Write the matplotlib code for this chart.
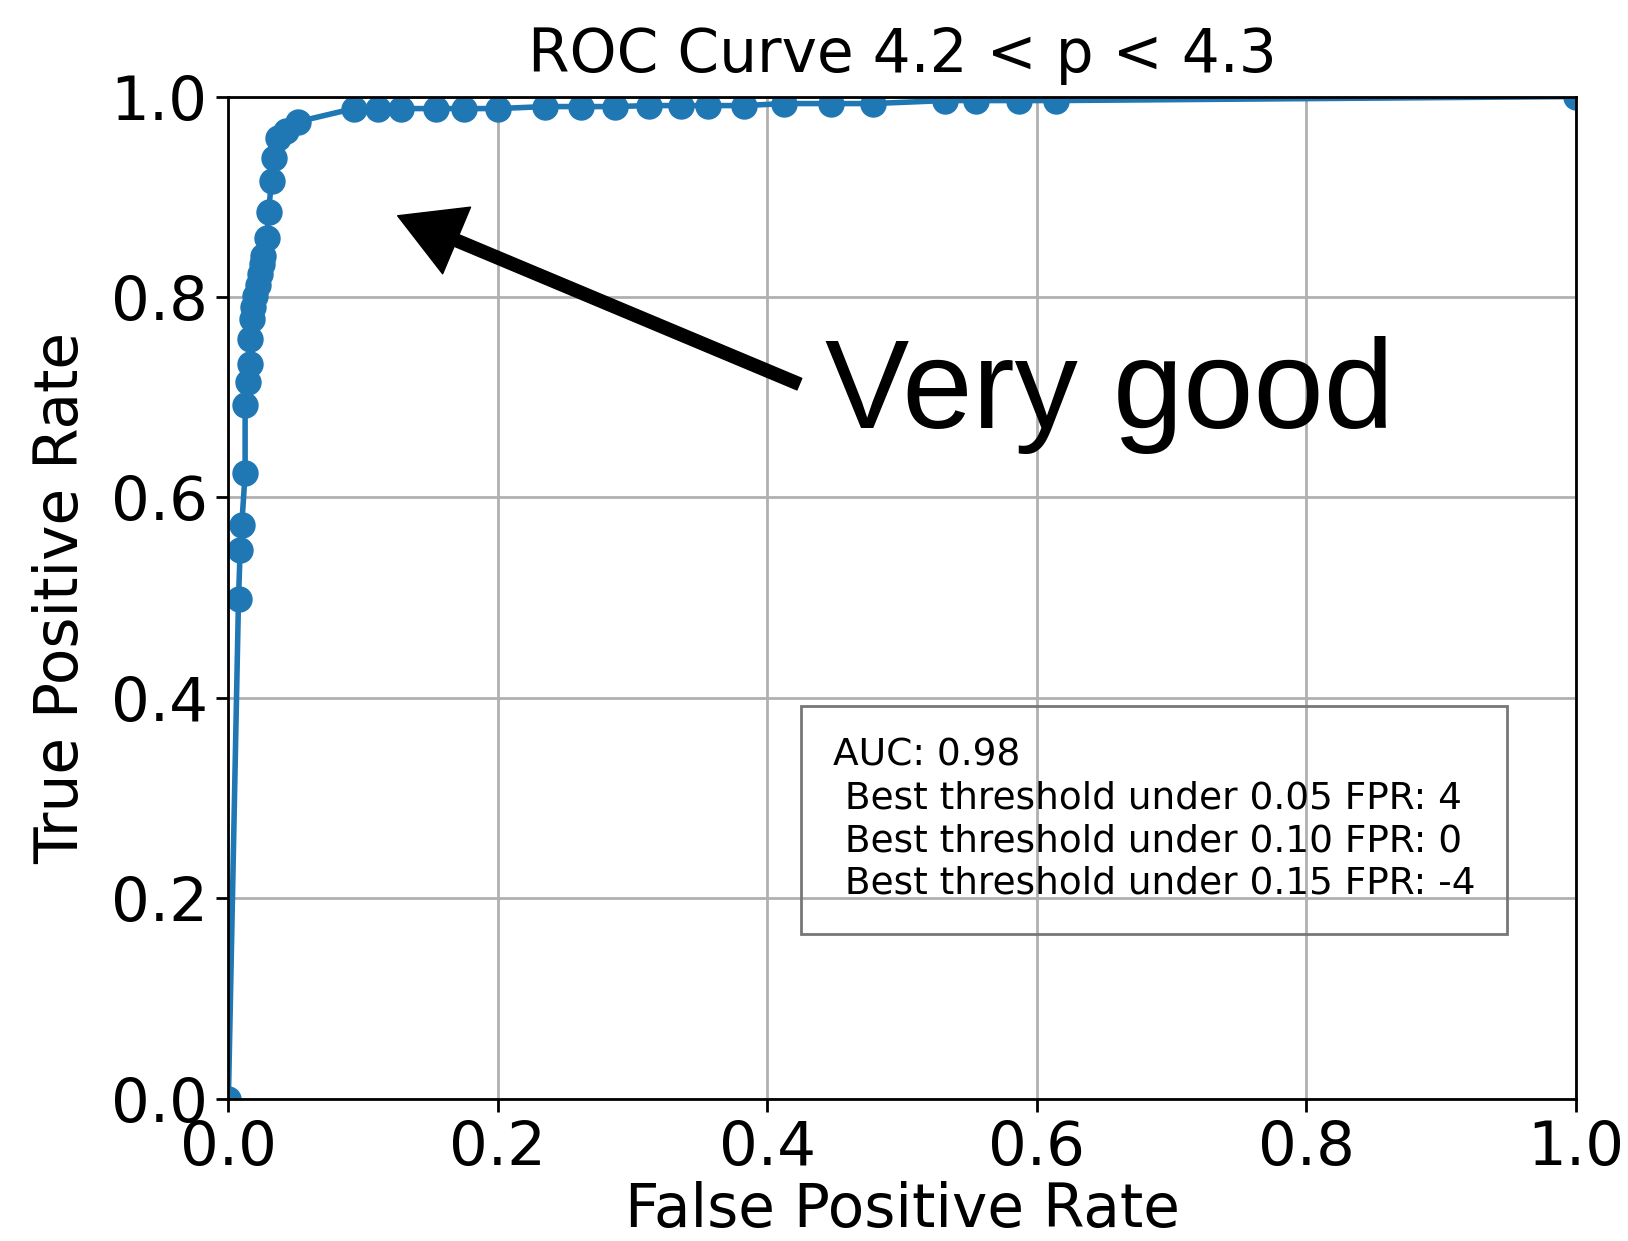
import matplotlib
matplotlib.use("Agg")
import matplotlib.pyplot as plt

# ROC points
fpr = [0.0, 0.0075, 0.0087, 0.0099, 0.0124, 0.0124, 0.0149, 0.016, 0.016,
       0.0174, 0.0186, 0.0199, 0.0216, 0.0236, 0.0248, 0.026, 0.0286,
       0.0298, 0.032, 0.034, 0.037, 0.043, 0.052,
       0.093, 0.111, 0.128, 0.154, 0.175, 0.200,
       0.235, 0.262, 0.287, 0.312, 0.336, 0.356, 0.383,
       0.412, 0.447, 0.478, 0.532, 0.555, 0.587, 0.614, 1.0]
tpr = [0.0, 0.499, 0.547, 0.572, 0.624, 0.692, 0.715, 0.733, 0.758,
       0.778, 0.790, 0.801, 0.812, 0.823, 0.833, 0.841, 0.859,
       0.885, 0.916, 0.939, 0.959, 0.966, 0.975,
       0.988, 0.988, 0.988, 0.988, 0.988, 0.988,
       0.990, 0.990, 0.990, 0.991, 0.991, 0.991, 0.991,
       0.993, 0.993, 0.993, 0.996, 0.996, 0.996, 0.996, 1.0]

title = "ROC Curve 4.2 < p < 4.3"
box_text = ("AUC: 0.98\n"
            " Best threshold under 0.05 FPR: 4\n"
            " Best threshold under 0.10 FPR: 0\n"
            " Best threshold under 0.15 FPR: -4")
ticks = [0.0, 0.2, 0.4, 0.6, 0.8, 1.0]

fig = plt.figure(figsize=(16.28, 12.41), dpi=100)
ax = fig.add_axes([0.1403, 0.1148, 0.8277, 0.8074])

ax.plot(fpr, tpr, marker="o", color="#1f77b4", markersize=18, linewidth=4)
ax.set_xlim(0, 1)
ax.set_ylim(0, 1)
ax.set_xticks(ticks)
ax.set_yticks(ticks)
ax.tick_params(labelsize=44, length=9, width=2, pad=6)
for s in ax.spines.values():
    s.set_linewidth(2)
ax.grid(True, color="#b0b0b0", linewidth=2)
ax.set_axisbelow(True)

ax.set_title(title, fontsize=43, pad=18)
ax.set_xlabel("False Positive Rate", fontsize=43, labelpad=2)
ax.set_ylabel("True Positive Rate", fontsize=43, labelpad=14)

# stats box, grid shows through it
ax.text(0.4277 + 0.021, 0.39 - 0.03, box_text, fontsize=27,
        va="top", ha="left", linespacing=1.24,
        bbox=dict(boxstyle="square,pad=0.85", facecolor="none",
                  edgecolor="#777777", linewidth=2))

# arrow + big label
ax.annotate("", xy=(0.1256, 0.881), xytext=(0.4237, 0.713),
            arrowprops=dict(facecolor="black", edgecolor="black",
                            width=9, headwidth=52, headlength=46))
ax.text(0.4427, 0.669, "Very good", fontsize=91, family="Liberation Sans",
        va="baseline", ha="left")

fig.savefig("out.png", dpi=100)
